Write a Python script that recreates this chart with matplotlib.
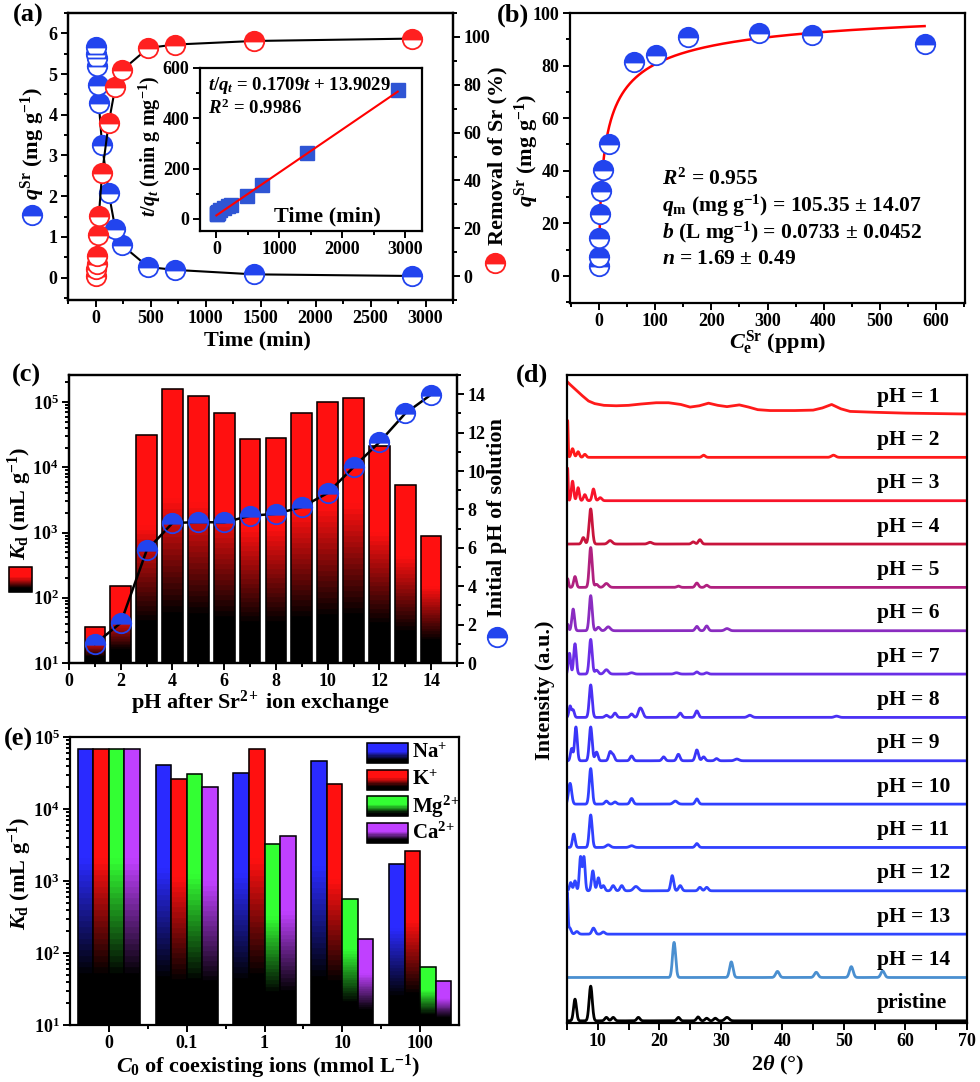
import numpy as np
import matplotlib
matplotlib.use('Agg')
import matplotlib.pyplot as plt
from matplotlib.lines import Line2D
from matplotlib.patches import Rectangle
from matplotlib.colors import to_rgb
from matplotlib.ticker import MultipleLocator, FixedLocator

plt.rcParams['font.family'] = ['Liberation Serif', 'DejaVu Serif']
plt.rcParams['font.weight'] = 'bold'
plt.rcParams['mathtext.fontset'] = 'custom'
plt.rcParams['mathtext.rm'] = 'Liberation Serif:bold'
plt.rcParams['mathtext.it'] = 'Liberation Serif:italic:bold'
plt.rcParams['mathtext.bf'] = 'Liberation Serif:bold'
plt.rcParams['axes.linewidth'] = 1.6

# ---- (a) kinetics ----
time_min = [0, 5, 10, 15, 20, 30, 60, 120, 180, 240, 480, 720, 1440, 2880]
q_sr = [5.67, 5.5, 5.4, 5.2, 4.72, 4.28, 3.25, 2.08, 1.2, 0.8, 0.26, 0.19, 0.08, 0.04]
removal_sr = [0, 3, 5, 8.5, 17, 25, 43, 64, 79, 86, 95.4, 96.8, 98.3, 99.3]
inset_t = [5, 10, 15, 20, 30, 60, 120, 180, 240, 480, 720, 1440, 2880]
inset_tq = [18, 20, 22, 25, 28, 34, 44, 50, 56, 92, 135, 262, 512]
fit_slope, fit_icpt = 0.1709, 13.9029

# ---- (b) isotherm ----
ce_sr = [0.2, 0.3, 0.5, 1.0, 3.6, 6.5, 17.8, 62, 100.7, 158, 284, 380, 580]
qe_sr = [3.7, 7.2, 14.6, 23.4, 32.4, 40.3, 50.2, 81.3, 84.1, 90.7, 92.4, 91.7, 88.2]
sips_qm, sips_b, sips_n = 105.35, 0.0733, 1.69

# ---- (c) pH effect ----
ph_after = list(range(1, 15))
kd_ph = [36, 149, 31800, 158000, 122000, 68500, 27300, 28600, 68500, 100000,
         114000, 21300, 5280, 890]
ph_initial = [0.99, 2.09, 5.86, 7.29, 7.34, 7.32, 7.67, 7.77, 8.12, 8.85,
              10.2, 11.5, 13.0, 13.98]

# ---- (e) coexisting ions ----
c0_labels = ['0', '0.1', '1', '10', '100']
kd_na = [68900, 41200, 31300, 46300, 1730]
kd_k = [68900, 25800, 67400, 22200, 2630]
kd_mg = [68900, 30300, 3220, 565, 64.7]
kd_ca = [68900, 19950, 4160, 157, 40.9]
ion_labels = [r'Na$^{+}$', r'K$^{+}$', r'Mg$^{2\!+}$', r'Ca$^{2\!+}$']

# ---- (d) XRD: pH = 1 as read outline, others as (2theta, height, fwhm) peaks ----
ph1_tt = [5, 5.5, 6.5, 7.5, 8.5, 9.5, 11, 13, 15, 17, 19.5, 21.5, 23.5, 25, 26.5,
          28, 29.5, 31, 33, 34.5, 36, 38, 42, 45, 46.5, 48, 49.5, 51, 55, 60, 70]
ph1_int = [0.75, 0.68, 0.55, 0.42, 0.3, 0.24, 0.2, 0.19, 0.2, 0.23, 0.26, 0.26,
           0.22, 0.16, 0.19, 0.25, 0.2, 0.17, 0.21, 0.16, 0.1, 0.08, 0.08, 0.09,
           0.14, 0.22, 0.12, 0.06, 0.04, 0.02, 0.0]
xrd_labels = ['pH = 1', 'pH = 2', 'pH = 3', 'pH = 4', 'pH = 5', 'pH = 6', 'pH = 7',
              'pH = 8', 'pH = 9', 'pH = 10', 'pH = 11', 'pH = 12', 'pH = 13',
              'pH = 14', 'pristine']
xrd_peaks = [
    None,
    [(5.1, 0.85, 0.2), (5.9, 0.2, 0.5), (6.8, 0.13, 0.5), (7.9, 0.07, 0.5),
     (27.2, 0.05, 0.6), (48.3, 0.05, 0.8)],
    [(5.1, 0.75, 0.2), (5.9, 0.45, 0.45), (6.8, 0.3, 0.45), (7.9, 0.14, 0.5),
     (9.3, 0.27, 0.5), (10.4, 0.07, 0.6)],
    [(7.65, 0.15, 0.55), (8.85, 0.81, 0.6), (12, 0.08, 0.8), (18.5, 0.04, 0.8),
     (25.5, 0.05, 0.6), (26.6, 0.1, 0.6)],
    [(5.1, 0.2, 0.35), (6.3, 0.25, 0.5), (8.85, 0.92, 0.55), (9.8, 0.07, 0.6),
     (11.4, 0.09, 0.8), (23.1, 0.03, 0.6), (26.1, 0.1, 0.6), (27.7, 0.05, 0.6)],
    [(5.1, 0.15, 0.35), (6.0, 0.5, 0.5), (8.85, 0.81, 0.55), (10.1, 0.08, 0.6),
     (11.7, 0.09, 0.8), (26.1, 0.1, 0.6), (27.7, 0.11, 0.6), (31, 0.05, 0.8)],
    [(5.4, 0.48, 0.45), (6.3, 0.7, 0.5), (8.85, 0.8, 0.55), (9.8, 0.09, 0.6),
     (11.4, 0.1, 0.8), (15.5, 0.03, 0.8), (22.8, 0.03, 0.8), (26.1, 0.05, 0.6),
     (27.7, 0.03, 0.6)],
    [(5.5, 0.26, 0.45), (6.0, 0.17, 0.45), (8.85, 0.75, 0.55), (11.4, 0.05, 0.6),
     (12.8, 0.1, 0.6), (15.5, 0.08, 0.6), (16.8, 0.17, 0.6), (17.2, 0.12, 0.6),
     (23.4, 0.1, 0.6), (26.1, 0.15, 0.6), (34.7, 0.05, 0.8), (48.8, 0.03, 0.8)],
    [(5.75, 0.28, 0.45), (6.45, 0.78, 0.5), (8.85, 0.78, 0.55), (9.8, 0.2, 0.55),
     (12.0, 0.2, 0.55), (12.5, 0.13, 0.55), (15.5, 0.11, 0.6), (20.7, 0.09, 0.6),
     (23.1, 0.15, 0.6), (26.1, 0.25, 0.6), (27.2, 0.09, 0.6), (29.3, 0.05, 0.6),
     (32.6, 0.04, 0.8)],
    [(5.5, 0.48, 0.6), (8.85, 0.82, 0.55), (11.4, 0.07, 0.6), (12.8, 0.05, 0.6),
     (15.5, 0.13, 0.6), (22.6, 0.07, 0.8), (26.1, 0.12, 0.6)],
    [(6.1, 0.31, 0.5), (8.85, 0.75, 0.55), (11.7, 0.06, 0.8), (15.5, 0.04, 0.8),
     (26.1, 0.09, 0.6)],
    [(5.6, 0.19, 0.45), (6.3, 0.23, 0.45), (7.2, 0.78, 0.45), (7.75, 0.78, 0.45),
     (9.2, 0.46, 0.5), (10.1, 0.3, 0.5), (10.9, 0.12, 0.55), (12.5, 0.12, 0.6),
     (13.9, 0.12, 0.6), (16.2, 0.1, 0.9), (22.1, 0.35, 0.55), (23.4, 0.12, 0.6),
     (26.6, 0.08, 0.6), (27.7, 0.08, 0.6)],
    [(5.05, 0.9, 0.25), (5.4, 0.15, 0.6), (6.6, 0.06, 0.6), (9.3, 0.14, 0.6),
     (10.9, 0.05, 0.6)],
    [(22.4, 0.81, 0.6), (31.7, 0.36, 0.65), (39.2, 0.14, 0.7), (45.5, 0.12, 0.7),
     (51.2, 0.25, 0.7), (56.3, 0.15, 0.7)],
    [(6.3, 0.5, 0.55), (8.85, 0.8, 0.6), (11.4, 0.08, 0.6), (12.5, 0.08, 0.6),
     (16.6, 0.08, 0.6), (23.1, 0.08, 0.6), (26.3, 0.09, 0.6), (27.7, 0.06, 0.6),
     (29.1, 0.06, 0.6), (31.0, 0.08, 0.8)],
]
xrd_colors = ['#ff1a1a', '#ff1a1a', '#f8142a', '#c8143c', '#b0207f', '#8a2cc0',
              '#6a2ee6', '#4a30f4', '#3a35f8', '#3040ff', '#3040ff', '#2f45ff',
              '#2f45ff', '#4a8fd0', 'black']

BLUE = '#2244ee'
RED = '#ff2020'
W, H = 980, 1082

fig = plt.figure(figsize=(W / 100, H / 100), dpi=100)


def fx(px):
    return px / W


def fy(py):
    return 1 - py / H


def ftext(px, py, s, **kw):
    kw.setdefault('ha', 'center')
    kw.setdefault('va', 'center')
    kw.setdefault('fontsize', 16)
    kw.setdefault('fontweight', 'bold')
    fig.text(fx(px), fy(py), s, **kw)


def fmark(px, py, color, alt):
    fig.add_artist(Line2D([fx(px)], [fy(py)], transform=fig.transFigure,
                          marker='o', markersize=14, fillstyle='top',
                          markerfacecolor=color, markerfacecoloralt=alt,
                          markeredgecolor=color, markeredgewidth=1.3))


def add_axes_px(l, t, r, b):
    return fig.add_axes([fx(l), fy(b), (r - l) / W, (b - t) / H])


def style(ax, labelsize=13):
    ax.tick_params(which='both', direction='out', width=1.4, labelsize=labelsize, pad=2.5)
    ax.tick_params(which='major', length=5)
    ax.tick_params(which='minor', length=3)
    for lab in ax.get_xticklabels() + ax.get_yticklabels():
        lab.set_fontweight('bold')


def mix(color, f):
    m = np.clip((f - 0.18) / 0.42, 0, 1)
    return tuple(np.array(to_rgb(color)) * m)


def grad_bar(ax, x, top, width, color, bottom=10, n=48):
    edges = np.logspace(np.log10(bottom), np.log10(top), n + 1)
    f = (np.arange(n) + 0.5) / n
    cols = [mix(color, v) for v in f]
    ax.bar([x] * n, edges[1:] - edges[:-1], bottom=edges[:-1], width=width,
           color=cols, edgecolor=cols, linewidth=0.3)
    ax.bar(x, top - bottom, bottom=bottom, width=width, fill=False,
           edgecolor='black', linewidth=1.1)


def grad_rect(transform, x0, y0, w, h, color, n=24):
    for i in range(n):
        f = (i + 0.5) / n
        c = mix(color, f)
        fig.add_artist(Rectangle((x0, y0 + h * i / n), w, h / n, transform=transform,
                                 facecolor=c, edgecolor=c, linewidth=0.3))
    fig.add_artist(Rectangle((x0, y0), w, h, transform=transform, fill=False,
                             edgecolor='black', linewidth=1.1))


# ================= (a) =================
ax_a = add_axes_px(68, 13, 453, 300)
ax_a.plot(time_min, q_sr, color='black', lw=1.5, zorder=2)
ax_a.plot(time_min, q_sr, ls='none', marker='o', markersize=14, fillstyle='top',
          markerfacecolor=BLUE, markerfacecoloralt='white', markeredgecolor=BLUE,
          markeredgewidth=1.3, zorder=3)
ax_a.set_xlim(-250, 3250)
ax_a.set_ylim(-0.55, 6.5)
ax_a.xaxis.set_major_locator(MultipleLocator(500))
ax_a.xaxis.set_minor_locator(MultipleLocator(250))
ax_a.yaxis.set_major_locator(MultipleLocator(1))
ax_a.yaxis.set_minor_locator(MultipleLocator(0.5))
style(ax_a)
ax_ar = ax_a.twinx()
ax_ar.plot(time_min, removal_sr, color='black', lw=1.5, zorder=2)
ax_ar.plot(time_min, removal_sr, ls='none', marker='o', markersize=14, fillstyle='top',
           markerfacecolor=RED, markerfacecoloralt='white', markeredgecolor=RED,
           markeredgewidth=1.3, zorder=3)
ax_ar.set_ylim(-10, 110)
ax_ar.yaxis.set_major_locator(MultipleLocator(20))
ax_ar.yaxis.set_minor_locator(MultipleLocator(10))
style(ax_ar)

ax_in = add_axes_px(200, 68, 422, 231)
ax_in.plot(inset_t, inset_tq, ls='none', marker='s', markersize=10, color='#2f55d4')
t_fit = np.array([0, inset_t[-1]])
ax_in.plot(t_fit, fit_slope * t_fit + fit_icpt, color='red', lw=1.5)
ax_in.set_xlim(-260, 3265)
ax_in.set_ylim(-48, 600)
ax_in.xaxis.set_major_locator(MultipleLocator(1000))
ax_in.xaxis.set_minor_locator(MultipleLocator(500))
ax_in.yaxis.set_major_locator(MultipleLocator(200))
ax_in.yaxis.set_minor_locator(MultipleLocator(100))
style(ax_in)

ftext(28, 15, '(a)', fontsize=19)
ftext(33, 143, r'$q^{\mathrm{Sr}}$ (mg g$^{-1}$)', rotation=90)
fmark(32, 215, BLUE, 'white')
ftext(497, 156, 'Removal of Sr (%)', rotation=90)
fmark(495, 263, RED, 'white')
ftext(257, 340, 'Time (min)')
ftext(327, 216, 'Time (min)')
ftext(150, 146, r'$t/q_t$ (min g mg$^{-1}$)', rotation=90, fontsize=14.5)
ftext(208, 86, r'$t/q_t$ = 0.1709$t$ + 13.9029', ha='left', fontsize=13.5)
ftext(208, 108, r'$R^2$ = 0.9986', ha='left', fontsize=13.5)

# ================= (b) =================
ax_b = add_axes_px(570, 13, 965, 303)
c_fit = np.linspace(0.5, 580, 600)
bc = (sips_b * c_fit) ** (1 / sips_n)
ax_b.plot(c_fit, sips_qm * bc / (1 + bc), color='red', lw=1.8, zorder=2)
ax_b.plot(ce_sr, qe_sr, ls='none', marker='o', markersize=14, fillstyle='top',
          markerfacecolor=BLUE, markerfacecoloralt='white', markeredgecolor=BLUE,
          markeredgewidth=1.3, zorder=3)
ax_b.set_xlim(-52, 652)
ax_b.set_ylim(-10.3, 100)
ax_b.xaxis.set_major_locator(MultipleLocator(100))
ax_b.xaxis.set_minor_locator(MultipleLocator(50))
ax_b.yaxis.set_major_locator(MultipleLocator(20))
ax_b.yaxis.set_minor_locator(MultipleLocator(10))
style(ax_b)
ftext(513, 15, '(b)', fontsize=19)
ftext(527, 150, r'$q^{\mathrm{Sr}}$ (mg g$^{-1}$)', rotation=90)
ftext(778, 343, r'$C_{\mathrm{e}}^{\mathrm{Sr}}$ (ppm)')
ftext(662, 179, r'$R^2$ = 0.955', ha='left', fontsize=15.5)
ftext(662, 206, r'$q_{\mathrm{m}}$ (mg g$^{-1}$) = 105.35 ± 14.07', ha='left', fontsize=15.5)
ftext(662, 233, r'$b$ (L mg$^{-1}$) = 0.0733 ± 0.0452', ha='left', fontsize=15.5)
ftext(662, 259, r'$n$ = 1.69 ± 0.49', ha='left', fontsize=15.5)

# ================= (c) =================
ax_c = add_axes_px(69, 375, 457, 663)
ax_c.set_yscale('log')
for x, v in zip(ph_after, kd_ph):
    grad_bar(ax_c, x, v, 0.8, '#ff1010')
ax_c.set_xlim(0, 15)
ax_c.set_ylim(10, 2.6e5)
ax_c.xaxis.set_major_locator(MultipleLocator(2))
ax_c.xaxis.set_minor_locator(MultipleLocator(1))
style(ax_c)
ax_c2 = ax_c.twinx()
ax_c2.plot(ph_after, ph_initial, color='black', lw=1.8, zorder=2)
ax_c2.plot(ph_after, ph_initial, ls='none', marker='o', markersize=14, fillstyle='top',
           markerfacecolor=BLUE, markerfacecoloralt='none', markeredgecolor=BLUE,
           markeredgewidth=1.3, zorder=3)
ax_c2.set_ylim(0, 15)
ax_c2.yaxis.set_major_locator(MultipleLocator(2))
ax_c2.yaxis.set_minor_locator(MultipleLocator(1))
style(ax_c2)
ftext(26, 375, '(c)', fontsize=19)
ftext(20, 503, r'$K_{\mathrm{d}}$ (mL g$^{-1}$)', rotation=90)
grad_rect(fig.transFigure, fx(9), fy(592), (32 - 9) / W, (592 - 567) / H, '#ff1010')
ftext(497, 518, 'Initial pH of solution', rotation=90)
fmark(497, 637, BLUE, 'white')
ftext(260, 703, r'pH after Sr$^{2\!+}$ ion exchange')

# ================= (e) =================
ax_e = add_axes_px(70, 737, 459, 1025)
ax_e.set_yscale('log')
ion_colors = ['#2a2aff', '#ff1010', '#33ff33', '#c040ff']
for k, (vals, col) in enumerate(zip([kd_na, kd_k, kd_mg, kd_ca], ion_colors)):
    for g, v in enumerate(vals):
        grad_bar(ax_e, g + (k - 1.5) * 0.2, v, 0.2, col)
ax_e.set_xlim(-0.5, 4.5)
ax_e.set_ylim(10, 1e5)
ax_e.set_xticks(range(len(c0_labels)))
ax_e.set_xticklabels(c0_labels)
ax_e.xaxis.set_minor_locator(FixedLocator([0.5, 1.5, 2.5, 3.5]))
style(ax_e)
for k, (lab, col) in enumerate(zip(ion_labels, ion_colors)):
    y0 = 0.91 - k * 0.093
    grad_rect(ax_e.transAxes, 0.763, y0, 0.106, 0.07, col, n=16)
    ax_e.text(0.88, y0 + 0.035, lab, transform=ax_e.transAxes, ha='left', va='center',
              fontsize=15, fontweight='bold')
ftext(18, 739, '(e)', fontsize=19)
ftext(20, 873, r'$K_{\mathrm{d}}$ (mL g$^{-1}$)', rotation=90)
ftext(268, 1067, r'$C_0$ of coexisting ions (mmol L$^{-1}$)')

# ================= (d) =================
ax_d = add_axes_px(567, 375, 967, 1023)
tt = np.linspace(5, 70, 2600)
n_tr = len(xrd_labels)
for i, (lab, peaks, col) in enumerate(zip(xrd_labels, xrd_peaks, xrd_colors)):
    off = n_tr - 1 - i
    if peaks is None:
        ax_d.plot(ph1_tt, np.array(ph1_int) + off, color=col, lw=2)
    else:
        y = np.zeros_like(tt)
        for p, h, w in peaks:
            s = w / 2.355
            y += h * np.exp(-0.5 * ((tt - p) / s) ** 2)
        ax_d.plot(tt, y + off, color=col, lw=2)
    ax_d.text(55.4, off + 0.4, lab, ha='left', va='center', fontsize=15.5,
              fontweight='bold')
ax_d.set_xlim(5, 70)
ax_d.set_ylim(-0.05, 14.9)
ax_d.set_yticks([])
ax_d.xaxis.set_major_locator(MultipleLocator(10))
ax_d.xaxis.set_minor_locator(MultipleLocator(5))
style(ax_d)
ax_d.tick_params(axis='x', which='minor', length=5)
ftext(532, 375, '(d)', fontsize=19)
ftext(545, 690, 'Intensity (a.u.)', rotation=90)
ftext(778, 1065, r'2$\theta$ (°)')

fig.savefig('out.png', dpi=100)
